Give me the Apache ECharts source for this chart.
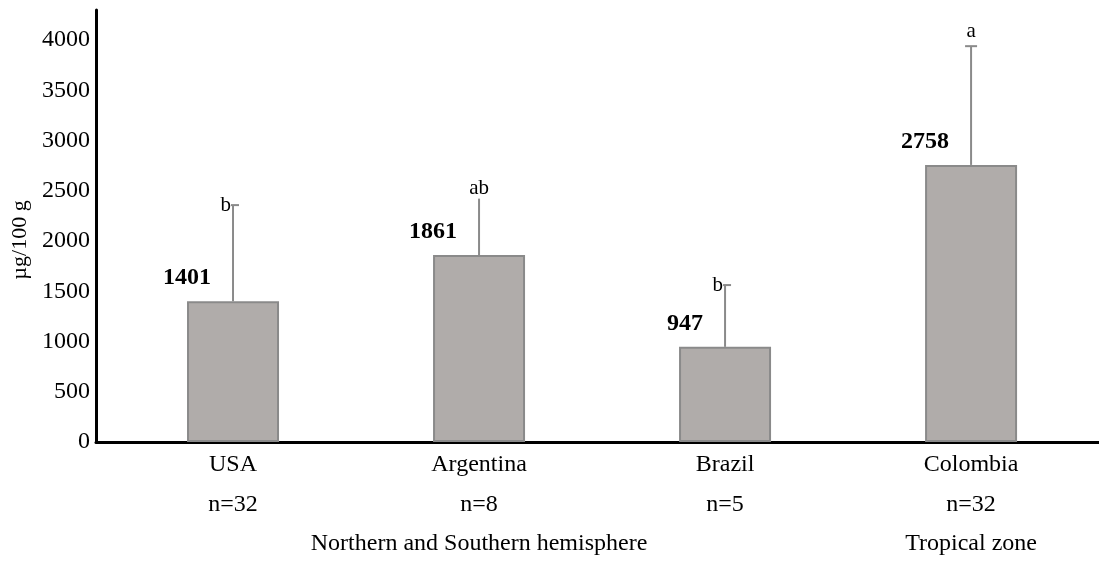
<!DOCTYPE html>
<html>
<head>
<meta charset="utf-8">
<title>Content by origin</title>
<script src="https://cdn.jsdelivr.net/npm/echarts@6/dist/echarts.min.js"></script>
<style>
  html, body { margin: 0; padding: 0; background: #ffffff; }
  #chart { width: 1099px; height: 572px; }
</style>
</head>
<body>
<div id="chart"></div>
<script>
// Origins, sample sizes and regional grouping
const countries = ['USA', 'Argentina', 'Brazil', 'Colombia'];
const sampleSizes = ['n=32', 'n=8', 'n=5', 'n=32'];
const groupNames = ['Northern and Southern hemisphere', 'Tropical zone'];
const groupCenters = [1, 3];          // category index at the middle of each group

// Mean content (µg/100 g), upper error (SD) and significance letters
const means = [1401, 1861, 947, 2758];
const sdUpper = [957, 666, 615, 1182];
const letters = ['b', 'ab', 'b', 'a'];

// Y axis ticks
const yTicks = [0, 500, 1000, 1500, 2000, 2500, 3000, 3500, 4000];

// How each significance letter sits relative to its error-bar cap
const letterPlacement = ['left', 'center', 'left', 'above'];

const FONT = '"Liberation Serif", "Times New Roman", serif';
const X_MIN = -0.557, X_MAX = 3.52;

const barData = means.map((v, i) => [i, v]);
const errData = means.map((v, i) => [i, v, v + sdUpper[i]]);

const chart = echarts.init(document.getElementById('chart'));

chart.setOption({
  animation: false,
  backgroundColor: '#ffffff',
  grid: { left: 96, right: 0, top: 10, bottom: 130, containLabel: false },
  xAxis: [
    {
      type: 'value',
      min: X_MIN,
      max: X_MAX,
      position: 'bottom',
      splitLine: { show: false },
      axisTick: { show: false },
      axisLine: { show: true, onZero: false, lineStyle: { color: '#000', width: 3 } },
      axisLabel: {
        customValues: countries.map((_, i) => i),
        margin: 3,
        formatter: (v) => {
          const i = Math.round(v);
          return '{c|' + countries[i] + '}\n{n|' + sampleSizes[i] + '}';
        },
        rich: {
          c: { fontFamily: FONT, fontSize: 24, color: '#000', lineHeight: 40 },
          n: { fontFamily: FONT, fontSize: 24, color: '#000', lineHeight: 40 }
        }
      }
    },
    {
      type: 'value',
      min: X_MIN,
      max: X_MAX,
      position: 'bottom',
      splitLine: { show: false },
      axisTick: { show: false },
      axisLine: { show: false, onZero: false },
      axisLabel: {
        customValues: groupCenters,
        margin: 82,
        formatter: (v) => groupNames[groupCenters.indexOf(Math.round(v))] || '',
        fontFamily: FONT,
        fontSize: 24,
        color: '#000',
        lineHeight: 40
      }
    }
  ],
  yAxis: {
    type: 'value',
    min: 0,
    max: 4300,
    interval: 500,
    name: 'µg/100 g',
    nameLocation: 'middle',
    nameRotate: 90,
    nameGap: 63,
    nameTextStyle: { fontFamily: FONT, fontSize: 22, color: '#000', padding: [0, 28, 0, 0] },
    splitLine: { show: false },
    axisTick: { show: false },
    axisLine: { show: true, onZero: false, lineStyle: { color: '#000', width: 3 } },
    axisLabel: {
      customValues: yTicks,
      margin: 6,
      formatter: (v) => String(v),
      fontFamily: FONT,
      fontSize: 24,
      color: '#000'
    }
  },
  series: [
    {
      type: 'bar',
      xAxisIndex: 0,
      data: barData,
      barWidth: 92,
      itemStyle: { color: '#b0acaa', borderColor: '#8a8a8a', borderWidth: 2 },
      label: {
        show: true,
        position: 'top',
        align: 'right',
        offset: [-22, -6],
        formatter: (p) => String(p.value[1]),
        fontFamily: FONT,
        fontSize: 24,
        fontWeight: 'bold',
        color: '#000'
      },
      z: 2
    },
    {
      type: 'custom',
      xAxisIndex: 0,
      data: errData,
      z: 3,
      renderItem: (params, api) => {
        const i = params.dataIndex;
        const base = api.coord([api.value(0), api.value(1)]);
        const top = api.coord([api.value(0), api.value(2)]);
        const x = base[0];
        const capHalf = 6;
        const style = { stroke: '#8a8a8a', lineWidth: 2 };
        const place = letterPlacement[i];
        let tx = x, ty = top[1], align = 'center', vAlign = 'middle';
        if (place === 'left') { tx = x - 2; align = 'right'; }
        if (place === 'above') { ty = top[1] - 4; vAlign = 'bottom'; }
        return {
          type: 'group',
          children: [
            { type: 'line', shape: { x1: x, y1: base[1], x2: x, y2: top[1] }, style },
            { type: 'line', shape: { x1: x - capHalf, y1: top[1], x2: x + capHalf, y2: top[1] }, style },
            {
              type: 'text',
              style: {
                x: tx, y: ty,
                text: letters[i],
                align: align,
                verticalAlign: vAlign,
                fontFamily: FONT,
                fontSize: 21,
                fill: '#000',
                backgroundColor: place === 'above' ? 'transparent' : '#fff'
              }
            }
          ]
        };
      }
    }
  ]
});
</script>
</body>
</html>
